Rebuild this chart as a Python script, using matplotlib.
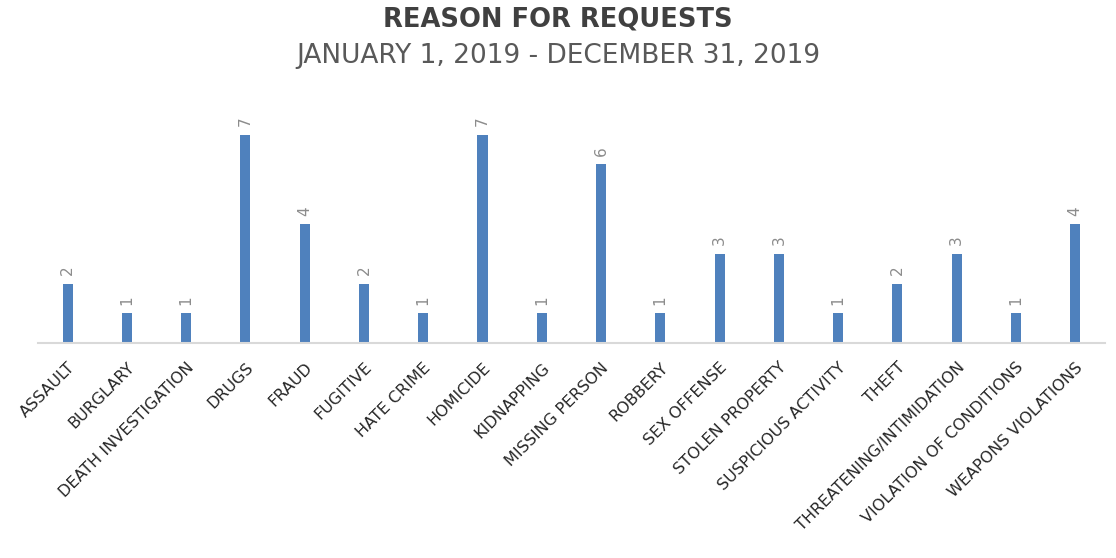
import matplotlib.pyplot as plt
import numpy as np

plt.rcParams['font.family'] = ['DejaVu Sans']

categories = ["ASSAULT", "BURGLARY", "DEATH INVESTIGATION", "DRUGS", "FRAUD",
              "FUGITIVE", "HATE CRIME", "HOMICIDE", "KIDNAPPING", "MISSING PERSON",
              "ROBBERY", "SEX OFFENSE", "STOLEN PROPERTY", "SUSPICIOUS ACTIVITY",
              "THEFT", "THREATENING/INTIMIDATION", "VIOLATION OF CONDITIONS",
              "WEAPONS VIOLATIONS"]
counts = [2, 1, 1, 7, 4, 2, 1, 7, 1, 6, 1, 3, 3, 1, 2, 3, 1, 4]

fig = plt.figure(figsize=(11.16, 5.58), dpi=100)
ax = fig.add_axes([0.034, 0.385, 0.956, 0.427])

x = np.arange(len(categories))
bars = ax.bar(x, counts, width=0.17, color='#4F81BD')
ax.set_xlim(-0.5, len(categories) - 0.5)
ax.set_ylim(0, 8)

for xi, v in zip(x, counts):
    ax.annotate(str(v), (xi, v), xytext=(0, 6), textcoords='offset points',
                rotation=90, ha='center', va='bottom', fontsize=11, color='#8C8C8C')

for s in ['top', 'right', 'left']:
    ax.spines[s].set_visible(False)
ax.spines['bottom'].set_color('#D9D9D9')
ax.spines['bottom'].set_linewidth(1.5)
ax.set_yticks([])
ax.set_xticks(x)
ax.set_xticklabels(categories, rotation=45, ha='right', rotation_mode='anchor',
                   fontsize=11.5, color='#262626')
ax.tick_params(axis='x', length=0, pad=12)

fig.text(0.5, 0.965, "REASON FOR REQUESTS", ha='center', va='center',
         fontsize=18.5, fontweight='bold', color='#404040')
fig.text(0.5, 0.9, "JANUARY 1, 2019 - DECEMBER 31, 2019", ha='center', va='center',
         fontsize=19, color='#595959')

fig.savefig('out.png', dpi=100)
